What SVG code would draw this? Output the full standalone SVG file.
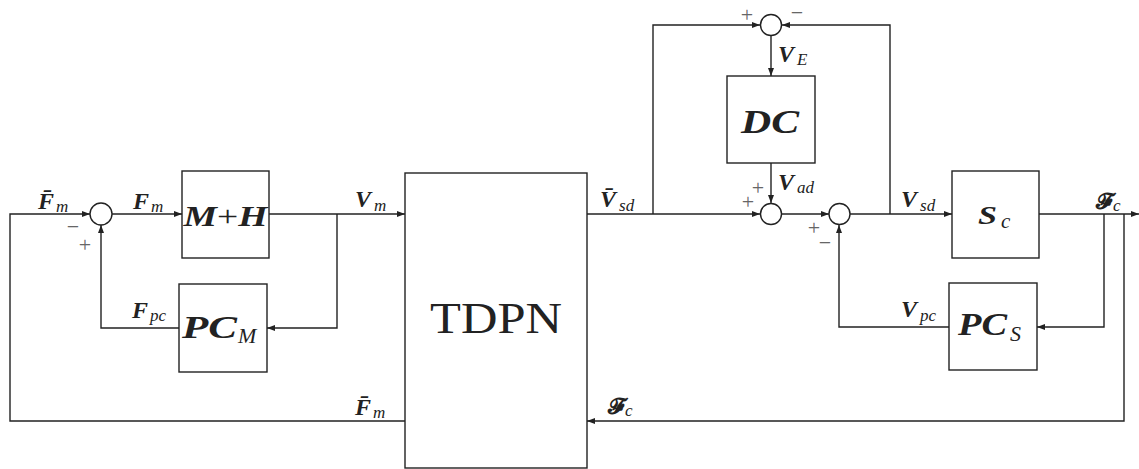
<svg xmlns="http://www.w3.org/2000/svg" width="1139" height="469" viewBox="0 0 1139 469">
<style>
.box{fill:#fff;stroke:#222;stroke-width:1.4}
.sum{fill:#fff;stroke:#222;stroke-width:1.4}
.ln{fill:none;stroke:#222;stroke-width:1.4}
.sym{font-family:"Liberation Serif",serif;font-weight:bold;font-style:italic;font-size:24px;fill:#222}
.sub{font-family:"Liberation Serif",serif;font-weight:normal;font-style:italic;font-size:17px}
.cal{font-family:"DejaVu Serif","DejaVu Sans","Liberation Serif",serif;font-weight:bold;font-style:normal;font-size:22px;fill:#222}
.big{font-family:"Liberation Serif",serif;font-weight:bold;font-style:italic;fill:#222}
.bsub{font-family:"Liberation Serif",serif;font-style:italic;fill:#222}
.sg{font-family:"Liberation Serif",serif;font-size:22px;fill:#666;text-anchor:middle}
.tdpn{font-family:"Liberation Serif",serif;font-size:45px;fill:#222;text-anchor:middle}
</style>
<defs>
<marker id="ar" markerUnits="userSpaceOnUse" markerWidth="8" markerHeight="6" refX="8" refY="3" orient="auto">
<path d="M0,0 L8,3 L0,6 z" fill="#222"/>
</marker>
</defs>

<g id="connectors">
<path class="ln" d="M405,421 L10,421 L10,214 L90,214" marker-end="url(#ar)"/>
<path class="ln" d="M112,214 L182,214" marker-end="url(#ar)"/>
<path class="ln" d="M269,214 L405,214" marker-end="url(#ar)"/>
<path class="ln" d="M337,214 L337,328 L267,328" marker-end="url(#ar)"/>
<path class="ln" d="M179,328 L101,328 L101,225" marker-end="url(#ar)"/>
<path class="ln" d="M587,214 L760,214" marker-end="url(#ar)"/>
<path class="ln" d="M653,214 L653,25 L760,25" marker-end="url(#ar)"/>
<path class="ln" d="M771,36 L771,76" marker-end="url(#ar)"/>
<path class="ln" d="M771,163 L771,203" marker-end="url(#ar)"/>
<path class="ln" d="M782,214 L829,214" marker-end="url(#ar)"/>
<path class="ln" d="M850,214 L952,214" marker-end="url(#ar)"/>
<path class="ln" d="M890,214 L890,25 L782,25" marker-end="url(#ar)"/>
<path class="ln" d="M949,327 L839,327 L839,225" marker-end="url(#ar)"/>
<path class="ln" d="M1039,214 L1139,214" marker-end="url(#ar)"/>
<path class="ln" d="M1104,214 L1104,327 L1037,327" marker-end="url(#ar)"/>
<path class="ln" d="M1124,214 L1124,421 L587,421" marker-end="url(#ar)"/>
</g>

<g id="sum-left">
<circle class="sum" cx="101" cy="214" r="11"/>
<text class="sg" x="73" y="234">−</text>
<text class="sg" x="85" y="252">+</text>
</g>
<g id="sum-top">
<circle class="sum" cx="771" cy="25" r="10.5"/>
<text class="sg" x="747" y="22">+</text>
<text class="sg" x="797" y="20">−</text>
</g>
<g id="sum-mid">
<circle class="sum" cx="771" cy="214" r="10.5"/>
<text class="sg" x="758" y="195">+</text>
<text class="sg" x="748" y="209">+</text>
</g>
<g id="sum-right">
<circle class="sum" cx="839.5" cy="214" r="10.5"/>
<text class="sg" x="814" y="235">+</text>
<text class="sg" x="825" y="250">−</text>
</g>

<g id="node-MH">
<rect class="box" x="182" y="171" width="87" height="87"/>
<text class="big" x="225.5" y="226" font-size="29" text-anchor="middle" textLength="84" lengthAdjust="spacingAndGlyphs">M<tspan font-weight="normal" font-style="normal">+</tspan>H</text>
</g>
<g id="node-PCM">
<rect class="box" x="179" y="284" width="88" height="88"/>
<text class="big" x="182" y="338" font-size="32" textLength="55" lengthAdjust="spacingAndGlyphs">PC</text>
<text class="bsub" x="238" y="343" font-size="22">M</text>
</g>
<g id="node-TDPN">
<rect class="box" x="405" y="173" width="182" height="295"/>
<text class="tdpn" x="496" y="333" textLength="132" lengthAdjust="spacingAndGlyphs">TDPN</text>
</g>
<g id="node-DC">
<rect class="box" x="727" y="76" width="88" height="87"/>
<text class="big" x="770" y="133" font-size="33" text-anchor="middle" textLength="58" lengthAdjust="spacingAndGlyphs">DC</text>
</g>
<g id="node-Sc">
<rect class="box" x="952" y="171" width="87" height="87"/>
<text class="big" x="978" y="224" font-size="26" textLength="19" lengthAdjust="spacingAndGlyphs">S</text>
<text class="bsub" x="1001" y="228" font-size="21">c</text>
</g>
<g id="node-PCS">
<rect class="box" x="949" y="283" width="88" height="87"/>
<text class="big" x="958" y="335" font-size="32" textLength="49" lengthAdjust="spacingAndGlyphs">PC</text>
<text class="bsub" x="1010" y="341" font-size="22">S</text>
</g>

<g id="labels">
<text class="sym" x="38" y="209">F̄<tspan class="sub" dx="2" dy="3">m</tspan></text>
<text class="sym" x="133" y="209">F<tspan class="sub" dx="2" dy="3">m</tspan></text>
<text class="sym" x="355" y="207">V<tspan class="sub" dx="3" dy="4">m</tspan></text>
<text class="sym" x="132" y="318">F<tspan class="sub" dx="2" dy="3">pc</tspan></text>
<text class="sym" x="355" y="415">F̄<tspan class="sub" dx="2" dy="3">m</tspan></text>
<text class="sym" x="600" y="207">V̄<tspan class="sub" dx="3" dy="4">sd</tspan></text>
<text class="sym" x="778" y="62">V<tspan class="sub" dx="3" dy="3">E</tspan></text>
<text class="sym" x="778" y="190">V<tspan class="sub" dx="3" dy="3">ad</tspan></text>
<text class="sym" x="901" y="207">V<tspan class="sub" dx="3" dy="4">sd</tspan></text>
<text class="sym" x="901" y="317">V<tspan class="sub" dx="3" dy="4">pc</tspan></text>
<text class="cal" x="1096" y="209">𝓕<tspan class="sub" dx="1" dy="2">c</tspan></text>
<text class="cal" x="608" y="414">𝓕<tspan class="sub" dx="1" dy="2">c</tspan></text>
</g>
</svg>
